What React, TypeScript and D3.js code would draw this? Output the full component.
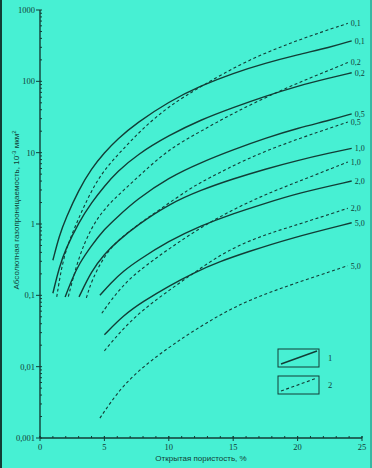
import React, { useEffect, useRef } from 'react';
import * as d3 from 'd3';

// curves: [open porosity %, permeability 10^-3 um^2]
// type 1 (solid)
const s01 = [[1, 0.31], [1.5, 0.69], [2, 1.2], [3, 3.0], [4, 6.0], [5, 10], [6, 15.5], [7.5, 26], [10, 52], [12.5, 87], [15, 130], [17.5, 180], [20, 236], [22.5, 300], [24.2, 370]];
const s02 = [[1, 0.107], [1.5, 0.25], [2, 0.45], [3, 1.05], [4, 2.0], [5, 3.4], [6, 5.4], [7.5, 9.3], [10, 17.5], [12.5, 29], [15, 43], [17.5, 62], [20, 86], [22.5, 112], [24.2, 132]];
const s05 = [[1.95, 0.095], [2.5, 0.17], [3, 0.27], [4, 0.5], [5, 0.85], [6, 1.25], [7.5, 2.2], [10, 4.5], [12.5, 7.3], [15, 11], [17.5, 16], [20, 22], [22.5, 28.5], [24.2, 35]];
const s10 = [[3.03, 0.095], [4, 0.22], [5, 0.38], [6, 0.57], [7.5, 0.95], [10, 1.9], [12.5, 3.0], [15, 4.3], [17.5, 5.9], [20, 7.8], [22.5, 9.9], [24.2, 11.5]];
const s20 = [[4.65, 0.1], [5.5, 0.15], [6.5, 0.22], [7.5, 0.3], [10, 0.58], [12.5, 0.95], [15, 1.4], [17.5, 1.95], [20, 2.7], [24.2, 4.0]];
const s50 = [[5, 0.028], [6.5, 0.053], [8, 0.082], [10, 0.135], [12, 0.21], [14, 0.3], [16, 0.4], [19.4, 0.63], [24.2, 1.04]];
// type 2 (dashed)
const d01 = [[1.3, 0.095], [1.8, 0.35], [2.7, 0.92], [4, 3.0], [5, 5.8], [6.5, 11.5], [8, 22], [10, 45], [12.5, 85], [16, 195], [20, 380], [23.9, 650]];
const d02 = [[2.2, 0.096], [3, 0.35], [4, 0.9], [5, 1.65], [6.5, 3.0], [8, 5.3], [10, 11.2], [12.5, 20], [15, 36], [18.7, 75], [21, 112], [23.9, 183]];
const d05 = [[3.6, 0.092], [4, 0.16], [5, 0.36], [6, 0.58], [7.5, 0.95], [9.3, 1.6], [11.7, 3.2], [13, 4.3], [16.15, 8.4], [19.4, 14.3], [23.9, 26.9]];
const d10 = [[4.8, 0.056], [5.5, 0.085], [6.5, 0.14], [7.5, 0.21], [10, 0.45], [12.5, 0.9], [15, 1.6], [17.5, 2.6], [20, 3.9], [23.9, 7.4]];
const d20 = [[5, 0.0167], [6.5, 0.035], [8, 0.063], [10, 0.117], [12, 0.21], [14, 0.37], [16, 0.56], [18, 0.76], [20, 0.98], [23.9, 1.66]];
const d50 = [[4.65, 0.0019], [5.5, 0.0032], [6.5, 0.0055], [8, 0.01], [10, 0.0186], [11.7, 0.03], [14, 0.054], [16.3, 0.087], [19.4, 0.14], [23.9, 0.26]];

const curveLabels = ['0,1', '0,2', '0,5', '1,0', '2,0', '5,0'];
const series1 = [s01, s02, s05, s10, s20, s50];
const series2 = [d01, d02, d05, d10, d20, d50];

const xTicks = [0, 5, 10, 15, 20, 25];
const yTicks = [1000, 100, 10, 1, 0.1, 0.01, 0.001];
const yTickLabels = ['1000', '100', '10', '1', '0,1', '0,01', '0,001'];
const legendLabels = ['1', '2'];

const App: React.FC = () => {
  const ref = useRef<SVGSVGElement | null>(null);

  useEffect(() => {
    if (!ref.current) return;
    const W = 372, H = 468;
    const ink = '#123d36';
    const serif = '"Liberation Serif", "DejaVu Serif", serif';
    const sans = '"Liberation Sans", Arial, sans-serif';

    const svg = d3.select(ref.current);
    svg.selectAll('*').remove();
    svg.attr('width', W).attr('height', H);

    svg.append('rect').attr('width', W).attr('height', H).attr('fill', '#47f0d3');
    // scan frame
    svg.append('line').attr('x1', 1).attr('x2', 1).attr('y1', 0).attr('y2', H)
      .attr('stroke', ink).attr('stroke-width', 2);
    svg.append('line').attr('x1', W - 1).attr('x2', W - 1).attr('y1', 0).attr('y2', H)
      .attr('stroke', ink).attr('stroke-width', 1).attr('opacity', 0.6);

    const x = d3.scaleLinear().domain([0, 25]).range([40, 362]);
    const y = d3.scaleLog().domain([0.001, 1000]).range([438, 10]);

    // axes lines
    svg.append('line').attr('x1', x(0)).attr('x2', x(0)).attr('y1', y(1000)).attr('y2', y(0.001))
      .attr('stroke', ink).attr('stroke-width', 1.4);
    svg.append('line').attr('x1', x(0)).attr('x2', x(25)).attr('y1', y(0.001)).attr('y2', y(0.001))
      .attr('stroke', ink).attr('stroke-width', 1.4);

    // y ticks
    const minorY: number[] = [];
    for (let e = -3; e < 3; e++) for (let m = 2; m <= 9; m++) minorY.push(m * Math.pow(10, e));
    svg.selectAll('.ymin').data(minorY).enter().append('line')
      .attr('x1', x(0)).attr('x2', x(0) + 2)
      .attr('y1', d => y(d)).attr('y2', d => y(d))
      .attr('stroke', ink).attr('stroke-width', 1);
    svg.selectAll('.ymaj').data(yTicks).enter().append('line')
      .attr('x1', x(0) - 4).attr('x2', x(0) + 2)
      .attr('y1', d => y(d)).attr('y2', d => y(d))
      .attr('stroke', ink).attr('stroke-width', 1);
    svg.selectAll('.ylab').data(yTicks).enter().append('text')
      .attr('x', x(0) - 5).attr('y', d => y(d)).attr('dy', '0.35em')
      .attr('text-anchor', 'end').attr('font-family', serif).attr('font-size', 8.5)
      .attr('fill', ink).text((d, i) => yTickLabels[i]);

    // x ticks
    svg.selectAll('.xmin').data(d3.range(0, 26)).enter().append('line')
      .attr('x1', d => x(d)).attr('x2', d => x(d))
      .attr('y1', y(0.001)).attr('y2', y(0.001) - 2)
      .attr('stroke', ink).attr('stroke-width', 1);
    svg.selectAll('.xmaj').data(xTicks).enter().append('line')
      .attr('x1', d => x(d)).attr('x2', d => x(d))
      .attr('y1', y(0.001) - 2).attr('y2', y(0.001) + 3)
      .attr('stroke', ink).attr('stroke-width', 1);
    svg.selectAll('.xlab').data(xTicks).enter().append('text')
      .attr('x', d => x(d)).attr('y', y(0.001) + 12)
      .attr('text-anchor', 'middle').attr('font-family', serif).attr('font-size', 8.5)
      .attr('fill', ink).text(d => String(d));

    // titles
    svg.append('text').attr('x', (x(0) + x(25)) / 2).attr('y', 461)
      .attr('text-anchor', 'middle').attr('font-family', sans).attr('font-size', 8)
      .attr('fill', ink).text('Открытая пористость, %');

    const yt = svg.append('text')
      .attr('transform', `translate(19,${y(1) - 14}) rotate(-90)`)
      .attr('text-anchor', 'middle').attr('font-family', sans).attr('font-size', 8)
      .attr('fill', ink);
    yt.append('tspan').text('Абсолютная газопроницаемость, 10');
    yt.append('tspan').attr('dy', -3).attr('font-size', 6).text('-3');
    yt.append('tspan').attr('dy', 3).text(' мкм');
    yt.append('tspan').attr('dy', -3).attr('font-size', 6).text('2');

    const line = d3.line<number[]>()
      .x(d => x(d[0]))
      .y(d => y(d[1]))
      .curve(d3.curveBasis);

    const drawSeries = (list: number[][][], dashed: boolean) => {
      list.forEach((pts, i) => {
        svg.append('path').datum(pts).attr('d', line)
          .attr('fill', 'none').attr('stroke', ink)
          .attr('stroke-width', dashed ? 1.1 : 1.4)
          .attr('stroke-dasharray', dashed ? '3,2.5' : null);
        const last = pts[pts.length - 1];
        svg.append('text')
          .attr('x', x(last[0]) + 3).attr('y', y(last[1])).attr('dy', '0.35em')
          .attr('font-family', serif).attr('font-size', 8)
          .attr('fill', ink).text(curveLabels[i]);
      });
    };
    drawSeries(series1, false);
    drawSeries(series2, true);

    // legend
    const legend = svg.selectAll('.legend').data(legendLabels).enter().append('g')
      .attr('transform', (d, i) => `translate(278,${349 + i * 27})`);
    legend.append('rect').attr('width', 41).attr('height', 18)
      .attr('fill', 'none').attr('stroke', ink).attr('stroke-width', 1);
    legend.append('line').attr('x1', 3).attr('y1', 15).attr('x2', 39).attr('y2', 2)
      .attr('stroke', ink).attr('stroke-width', (d, i) => (i === 0 ? 1.4 : 1.1))
      .attr('stroke-dasharray', (d, i) => (i === 0 ? null : '3,2.5'));
    legend.append('text').attr('x', 50).attr('y', 9).attr('dy', '0.35em')
      .attr('font-family', serif).attr('font-size', 8.5).attr('fill', ink).text(d => d);
  }, []);

  return <svg ref={ref} style={{ position: 'absolute', left: 0, top: 0 }}></svg>;
};

export default App;
